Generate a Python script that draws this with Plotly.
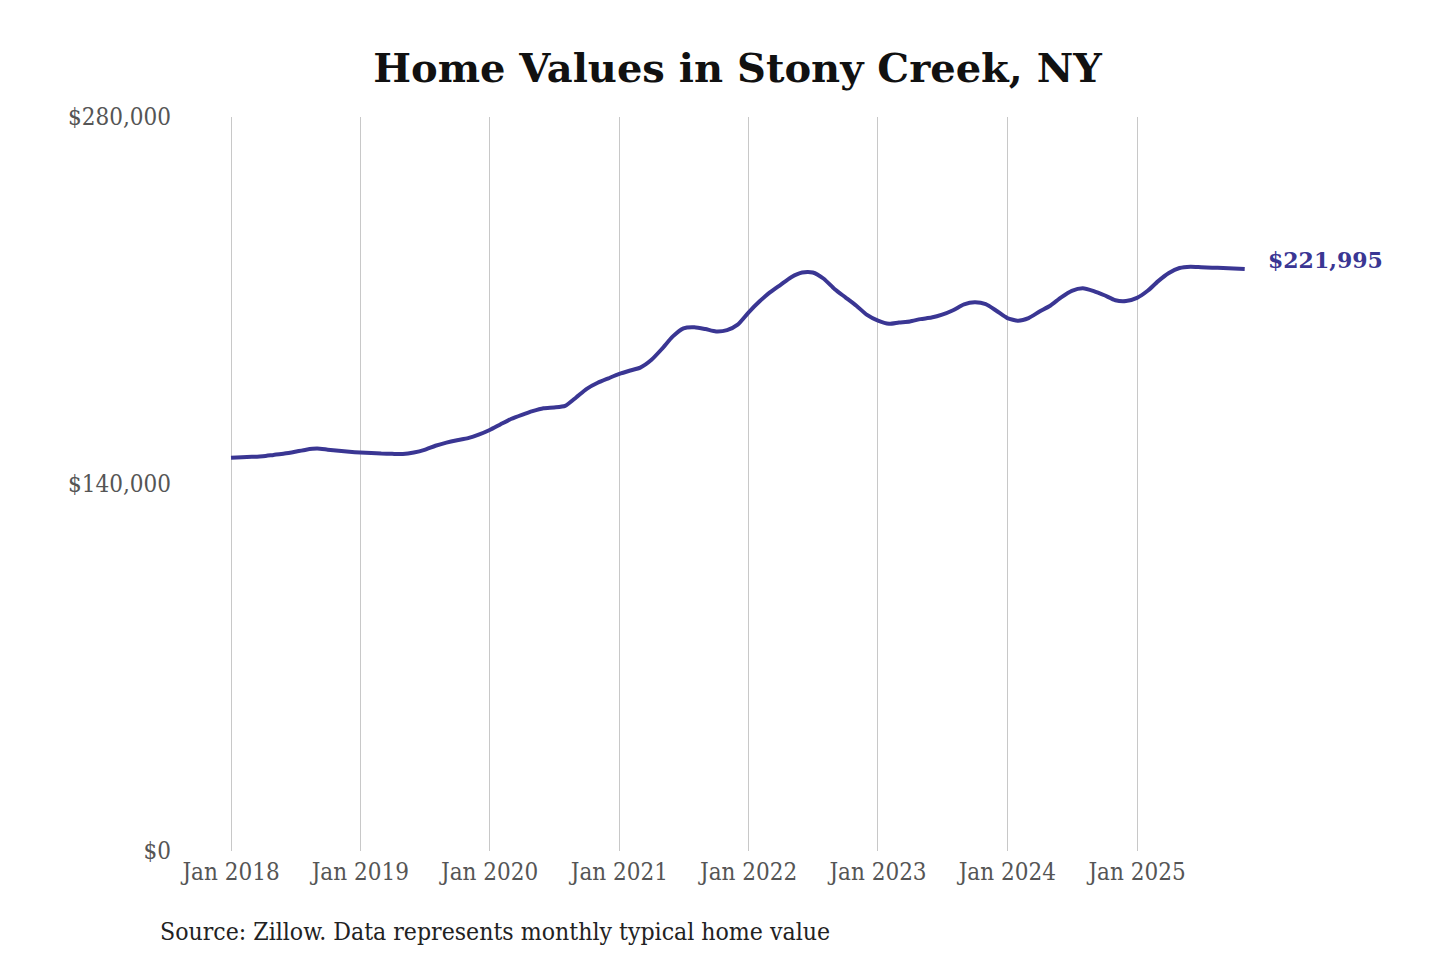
import pandas as pd
import plotly.graph_objects as go

# Monatswerte (typischer Hauswert) ab Jan 2018
start_month = "2018-01-01"
home_values = [
    150000, 150200, 150350, 150600, 151100, 151600, 152300, 153100, 153500, 153100, 152700, 152300,
    152000, 151800, 151600, 151500, 151450, 152000, 153000, 154600, 155800, 156700, 157500, 158800,
    160600, 162800, 164800, 166400, 167800, 168900, 169200, 169800, 173000, 176300, 178600, 180300,
    182000, 183300, 184400, 187300, 191500, 196300, 199400, 199800, 199100, 198200, 198700, 200800,
    205500, 209700, 213000, 216000, 218900, 220700, 220700, 218300, 214300, 211200, 208000, 204500,
    202300, 201100, 201600, 202000, 202900, 203500, 204600, 206300, 208500, 209300, 208600, 206100,
    203300, 202300, 203300, 205800, 208000, 211200, 213700, 214700, 213600, 212000, 210100, 209800,
    211000, 213800, 217300, 220500, 222400, 222900, 222700, 222500, 222400, 222200, 221995,
]
dates = pd.date_range(start_month, periods=len(home_values), freq="MS")

tick_dates = pd.date_range("2018-01-01", "2025-01-01", freq="YS")
tick_labels = [d.strftime("Jan %Y") for d in tick_dates]
y_ticks = [0, 140000, 280000]
y_tick_labels = ["$0", "$140,000", "$280,000"]

title = "Home Values in Stony Creek, NY"
source = "Source: Zillow. Data represents monthly typical home value"
last_label = "$221,995"

line_color = "#3a3693"
serif = "DejaVu Serif Condensed, DejaVu Serif, serif"

# Seite hat 8px Rand; Zielpositionen im Screenshot minus 8
off = 8
left_px, right_px = 176 - off, 1400 - off
top_px, bottom_px = 117 - off, 851 - off
px_per_day = (1137 - 231) / (tick_dates[-1] - tick_dates[0]).days
x_start = tick_dates[0] - pd.Timedelta(days=(231 - 176) / px_per_day)
x_end = tick_dates[-1] + pd.Timedelta(days=(1400 - 1137) / px_per_day)

fig = go.Figure()
fig.add_trace(go.Scatter(x=dates, y=home_values, mode="lines",
                         line=dict(color=line_color, width=4, shape="spline", smoothing=0.6),
                         hoverinfo="skip", showlegend=False))

fig.add_annotation(x=dates[-1], y=home_values[-1], xref="x", yref="y", text=f"<b>{last_label}</b>",
                   showarrow=False, xanchor="left", yanchor="middle", xshift=21, yshift=9,
                   font=dict(family="DejaVu Serif", size=22, color=line_color))

fig.add_annotation(x=(158 - 176) / (1400 - 176), y=(851 - 931) / (851 - 117),
                   xref="paper", yref="paper", text=source, showarrow=False,
                   xanchor="left", yanchor="middle", font=dict(family=serif, size=24.6, color="#222222"))

fig.update_layout(
    width=1440, height=960,
    paper_bgcolor="white", plot_bgcolor="white",
    margin=dict(l=left_px, r=1440 - right_px, t=top_px, b=960 - bottom_px),
    title=dict(text=f"<b>{title}</b>", x=(737.5 - off) / 1440, xanchor="center",
               y=1 - (68 - off) / 960, yanchor="middle",
               font=dict(family="DejaVu Serif", size=40, color="#111111")),
    xaxis=dict(range=[x_start, x_end], tickvals=tick_dates, ticktext=tick_labels,
               showgrid=True, gridcolor="#c8c8c8", gridwidth=1, zeroline=False, showline=False,
               ticks="", ticklabelstandoff=4, tickfont=dict(family=serif, size=24, color="#555555")),
    yaxis=dict(range=[0, 280000], tickvals=y_ticks, ticktext=y_tick_labels,
               showgrid=False, zeroline=False, showline=False, ticks="",
               ticklabelstandoff=4, tickfont=dict(family=serif, size=24, color="#555555")),
)

fig.write_html("out.html")
